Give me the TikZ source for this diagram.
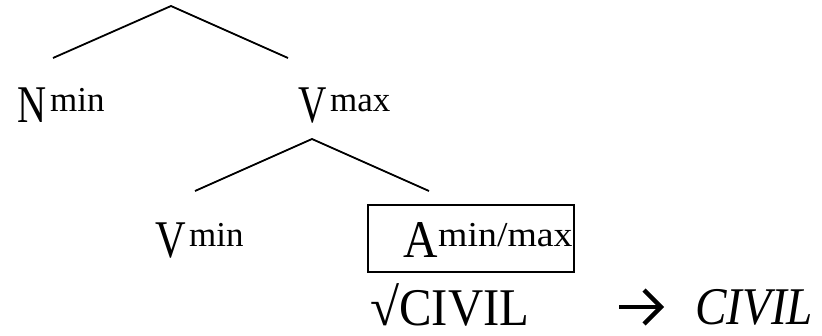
\documentclass[tikz,border=0pt]{standalone}
\usepackage{fontspec}
\setmainfont{Liberation Serif}
\usetikzlibrary{calc}
\begin{document}
\begin{tikzpicture}[x=1pt,y=-1pt,
  branch/.style={line width=1.8pt},
  big/.style={anchor=base west,inner sep=0pt,font=\fontsize{53}{60}\selectfont},
  sup/.style={anchor=base west,inner sep=0pt,font=\fontsize{35}{40}\selectfont},
  boxed/.style={draw,line width=2pt},
  bigarrow/.style={line width=4.5pt}]
\useasboundingbox (0,0) rectangle (822,336);
% top tree
\coordinate (top) at (171,6);
\coordinate (topL) at (53,58);
\coordinate (topR) at (288,58);
\draw[branch] (topL) -- (top) -- (topR);
\node[big] (N) at (17,123) {\scalebox{0.76}[1]{N}};
\node[sup] (Nsup) at (50,112) {min};
\node[big] (Vmax) at (298,123) {\scalebox{0.74}[1]{V}};
\node[sup] (Vmaxsup) at (330,112) {max};
% lower tree
\coordinate (mid) at (312,139);
\coordinate (midL) at (195,191);
\coordinate (midR) at (429,191);
\draw[branch] (midL) -- (mid) -- (midR);
\node[big] (Vmin) at (155,258) {\scalebox{0.8}[1]{V}};
\node[sup] (Vminsup) at (189,247) {min};
\node[big] (A) at (403,258) {\scalebox{0.9}[1]{A}};
\node[sup] (Asup) at (438,247) {\scalebox{1.08}[1]{min/max}};
\node[boxed,minimum width=206pt,minimum height=67pt,inner sep=0pt] (box) at (471,238.5) {};
% root and arrow
\node[big,text depth=0pt] (root) at (370,326) {√\scalebox{0.92}[1]{CIVIL}};
\node[big,text depth=0pt] (civ) at (695,325) {\scalebox{0.89}[1]{\itshape CIVIL}};
\coordinate (a1) at (619,307);
\coordinate (a2) at (661,307);
\draw[bigarrow] (a1) -- (a2);
\draw[bigarrow,line join=miter] ($(a2)+(-17,-17)$) -- (a2) -- ($(a2)+(-17,17)$);
\end{tikzpicture}
\end{document}
